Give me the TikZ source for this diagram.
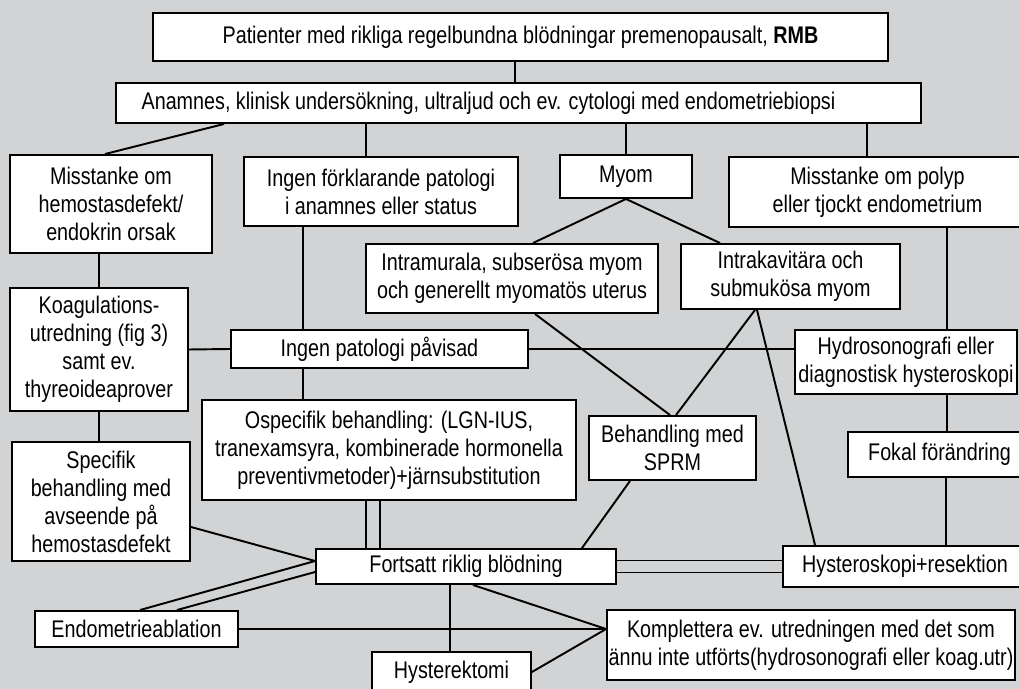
\documentclass[tikz,border=0pt]{standalone}
\usepackage{fontspec}
\setmainfont{Liberation Sans}[FakeStretch=0.82]
\usepackage{xcolor}
\definecolor{bggray}{RGB}{209,211,212}
\tikzstyle{box} = [draw, fill=white, line width=1.1pt, inner sep=0pt, align=center, font=\fontsize{13.7}{15.9}\selectfont]
\tikzstyle{link} = [line width=1.1pt]

\begin{document}
\begin{tikzpicture}[x=0.02cm, y=-0.02cm]
\useasboundingbox (0,0) rectangle (1019,689);
\clip (0,0) rectangle (1019,689);
\fill[bggray] (0,0) rectangle (1019,689);

% Investigation
\node[box, minimum width=14.7cm, minimum height=0.96cm] (top) at (520.5,37) {Patienter med rikliga regelbundna blödningar premenopausalt, \textbf{RMB}};
\node[box, minimum width=16.1cm, minimum height=0.8cm] (anam) at (518.5,103) {Anamnes, klinisk undersökning, ultraljud och ev. cytologi med endometriebiopsi\hspace*{1.2cm}};

% Findings
\node[box, minimum width=4.04cm, minimum height=1.96cm] (hemo) at (111,204) {Misstanke om\\hemostasdefekt/\\endokrin orsak};
\node[box, minimum width=5.48cm, minimum height=1.38cm] (ingenf) at (381,191.5) {Ingen förklarande patologi\\i anamnes eller status};
\node[box, minimum width=2.64cm, minimum height=0.86cm] (myom) at (626,176.5) {Myom};
\node[box, minimum width=5.94cm, minimum height=1.4cm] (polyp) at (877.5,192) {Misstanke om polyp\\eller tjockt endometrium};
\node[box, minimum width=5.84cm, minimum height=1.38cm] (intram) at (512,278.5) {Intramurala, subserösa myom\\och generellt myomatös uterus};
\node[box, minimum width=4.38cm, minimum height=1.3cm] (intrak) at (790.5,276.5) {Intrakavitära och\\submukösa myom};
\node[box, minimum width=3.56cm, minimum height=2.46cm] (koag) at (99,349.5) {Koagulations-\\utredning (fig 3)\\samt ev.\\thyreoideaprover};
\node[box, minimum width=5.94cm, minimum height=0.76cm] (ingenp) at (379.5,349) {Ingen patologi påvisad};
\node[box, minimum width=4.44cm, minimum height=1.28cm] (hydro) at (906,362) {Hydrosonografi eller\\diagnostisk hysteroskopi};

% Treatment
\node[box, minimum width=7.48cm, minimum height=2cm] (ospec) at (389,450) {Ospecifik behandling: (LGN-IUS,\\tranexamsyra, kombinerade hormonella\\preventivmetoder)+järnsubstitution};
\node[box, minimum width=3.34cm, minimum height=1.28cm] (sprm) at (672.5,448) {Behandling med\\SPRM};
\node[box, minimum width=3.66cm, minimum height=0.9cm] (fokal) at (939.5,454.5) {Fokal förändring};
\node[box, minimum width=3.56cm, minimum height=2.38cm] (spec) at (101,501.5) {Specifik\\behandling med\\avseende på\\hemostasdefekt};
\node[box, minimum width=6cm, minimum height=0.7cm] (fort) at (466,566.5) {Fortsatt riklig blödning};
\node[box, minimum width=4.88cm, minimum height=0.82cm] (hyst) at (905,566.5) {Hysteroskopi+resektion};
\node[box, minimum width=4.06cm, minimum height=0.72cm] (ablat) at (136.5,629) {Endometrieablation};
\node[box, minimum width=3.18cm, minimum height=0.8cm] (hystrekt) at (451.5,672) {Hysterektomi};
\node[box, minimum width=8.16cm, minimum height=1.4cm] (kompl) at (811,645) {Komplettera ev. utredningen med det som\\ännu inte utförts(hydrosonografi eller koag.utr)};

% Top levels
\draw[link] ([xshift=-0.11cm]top.south) -- ([xshift=-0.11cm]top.south |- anam.north);
\draw[link] ([xshift=2.18cm]anam.south west) -- ([xshift=-0.12cm]hemo.north);
\draw[link] ([xshift=-0.3cm]ingenf.north) -- ([xshift=-0.3cm]ingenf.north |- anam.south);
\draw[link] (myom.north) -- (myom.north |- anam.south);
\draw[link] ([xshift=-0.21cm]polyp.north) -- ([xshift=-0.21cm]polyp.north |- anam.south);

% Myom
\draw[link] (myom.south) -- ([xshift=0.42cm]intram.north);
\draw[link] (myom.south) -- ([xshift=-1.41cm]intrak.north);
\draw[link] ([xshift=0.46cm]intram.south) -- ([xshift=-0.05cm]sprm.north);
\draw[link] ([xshift=-0.71cm]intrak.south) -- ([xshift=0.07cm]sprm.north);
\draw[link] ([xshift=-0.67cm]intrak.south) -- ([xshift=0.66cm]hyst.north west);

% Left column
\draw[link] (koag.north) -- (koag.north |- hemo.south);
\draw[link] (koag.south) -- (koag.south |- spec.north);
\draw[link] (koag.east) -- (ingenp.west);
\draw[link] (ingenp.east) -- (ingenp.east -| hydro.west);
\draw[link] ([xshift=-1.53cm]ingenp.north) -- ([xshift=-1.53cm]ingenp.north |- ingenf.south);
\draw[link] ([xshift=-1.53cm]ingenp.south) -- ([xshift=-1.53cm]ingenp.south |- ospec.north);

% Right column
\draw[link] ([xshift=0.82cm]hydro.north) -- ([xshift=0.82cm]hydro.north |- polyp.south);
\draw[link] ([xshift=0.15cm]fokal.north) -- ([xshift=0.15cm]fokal.north |- hydro.south);
\draw[link] ([xshift=0.13cm]fokal.south) -- ([xshift=0.13cm]fokal.south |- hyst.north);

% Continued bleeding
\draw[link] ([xshift=-0.46cm]ospec.south) -- ([xshift=-0.46cm]ospec.south |- fort.north);
\draw[link] ([xshift=-0.18cm]ospec.south) -- ([xshift=-0.18cm]ospec.south |- fort.north);
\draw[link] ([xshift=-0.85cm]sprm.south) -- ([xshift=2.32cm]fort.north);
\draw[link] ([yshift=0.12cm]fort.east) -- ([yshift=0.12cm]fort.east -| hyst.west);
\draw[link] ([yshift=-0.12cm]fort.east) -- ([yshift=-0.12cm]fort.east -| hyst.west);
\draw[link] ([yshift=-0.51cm]spec.east) -- ([yshift=0.11cm]fort.west);
\draw[link] ([yshift=0.11cm]fort.west) -- ([xshift=0.07cm]ablat.north);
\draw[link] ([yshift=-0.11cm]fort.west) -- ([xshift=0.81cm]ablat.north);
\draw[link] ([xshift=-0.03cm]hystrekt.north) -- ([xshift=-0.03cm]hystrekt.north |- fort.south);

% Komplettera
\coordinate (kin) at ([yshift=0.32cm]kompl.west);
\draw[link] (ablat.east) -- (kin);
\draw[link] ([xshift=0.14cm]fort.south) -- (kin);
\draw[link] (hystrekt.east) -- (kin);
\end{tikzpicture}
\end{document}
